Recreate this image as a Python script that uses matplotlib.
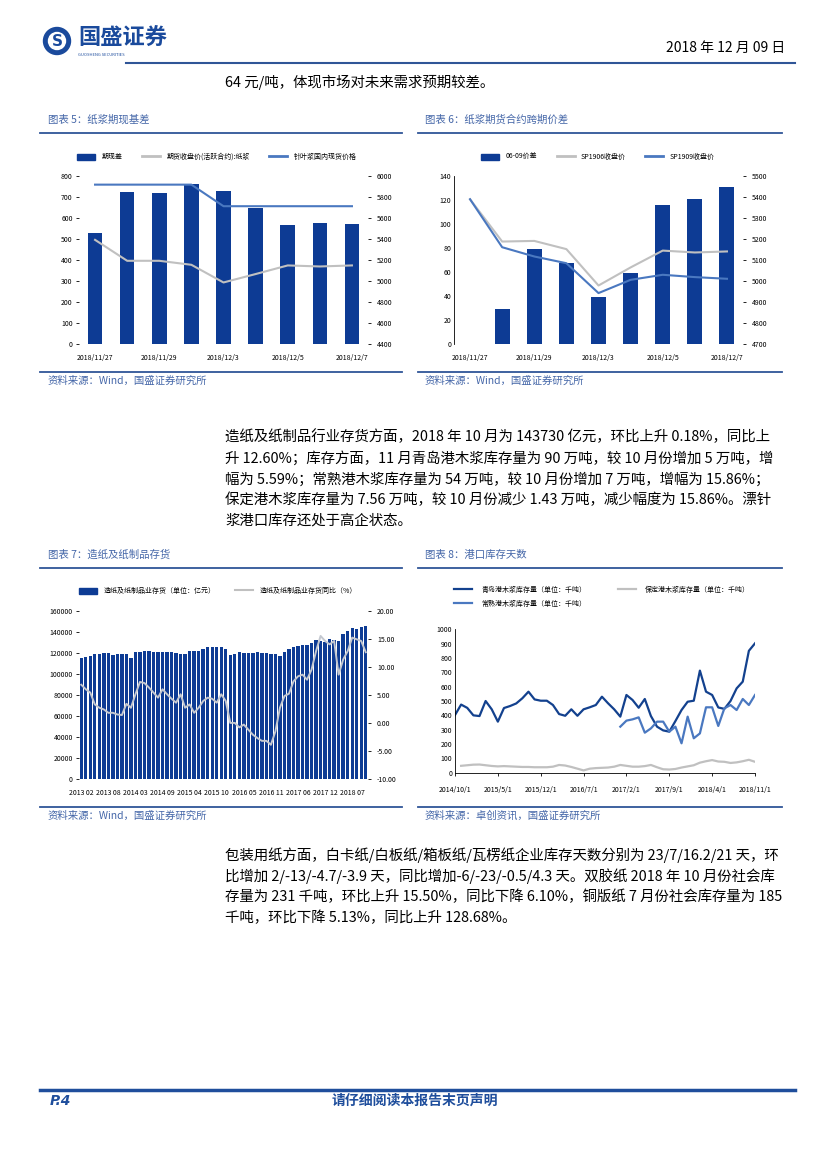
import matplotlib
matplotlib.use('Agg')
import matplotlib.pyplot as plt
import numpy as np
from matplotlib.lines import Line2D
from matplotlib.patches import Circle, Patch

plt.rcParams['font.family'] = ['Noto Sans CJK SC', 'DejaVu Sans']
plt.rcParams['axes.unicode_minus'] = False

# ---- data: chart 5 (basis) ----
basis_dates = ['2018/11/27', '2018/11/28', '2018/11/29', '2018/11/30', '2018/12/3',
               '2018/12/4', '2018/12/5', '2018/12/6', '2018/12/7']
basis = [526, 722, 718, 760, 727, 648, 566, 575, 571]
fut_close = [5390, 5191, 5191, 5153, 4985, 5065, 5147, 5137, 5147]
spot_price = [5915, 5915, 5915, 5915, 5710, 5710, 5710, 5710, 5710]

# ---- data: chart 6 (calendar spread) ----
spread_0609 = [0, 29, 79, 67, 39, 59, 116, 121, 131]
sp1906 = [5388, 5187, 5190, 5151, 4978, 5064, 5144, 5135, 5140]
sp1909 = [5388, 5160, 5116, 5084, 4942, 5005, 5029, 5018, 5010]

# ---- data: chart 7 (paper industry inventory) ----
inv_ticks = ['2013 02', '2013 08', '2014 03', '2014 09', '2015 04', '2015 10',
             '2016 05', '2016 11', '2017 06', '2017 12', '2018 07']
inv = [114700, 116300, 117200, 118500, 118800, 119400, 120100, 117800, 118800, 118800, 118500,
       115300, 120400, 121000, 121600, 121300, 120700, 120700, 120700, 120700, 120700, 120100,
       118800, 118800, 121600, 121300, 122000, 123600, 125100, 125400, 125100, 125400, 123200,
       118000, 119000, 120400, 119400, 120100, 119400, 120400, 120100, 119400, 118800, 118800,
       116900, 121000, 123200, 125800, 126700, 127000, 127400, 128900, 132100, 131500, 130500,
       132700, 132100, 131500, 138000, 141000, 143800, 142600, 144800, 145400]
inv_yoy = [6.8, 6.0, 5.4, 3.3, 2.7, 2.4, 1.8, 1.8, 1.5, 1.4, 3.4,
           2.7, 5.1, 7.3, 7.1, 6.3, 5.4, 4.5, 6.0, 5.1, 4.3, 3.6,
           5.1, 2.7, 3.3, 1.8, 2.7, 3.9, 4.5, 4.3, 3.6, 5.1, 3.9,
           0.0, 0.0, -0.8, -0.3, -1.2, -2.1, -2.7, -3.2, -3.2, -3.9, -1.5,
           2.7, 4.8, 5.2, 7.4, 8.3, 8.6, 7.7, 9.5, 12.8, 15.5, 14.6,
           14.0, 14.6, 8.6, 11.3, 12.8, 15.2, 14.9, 14.6, 12.6]

# ---- data: chart 8 (port stocks, monthly 2014/10 - 2018/11) ----
port_ticks = ['2014/10/1', '2015/5/1', '2015/12/1', '2016/7/1',
              '2017/2/1', '2017/9/1', '2018/4/1', '2018/11/1']
qingdao = [402, 475, 452, 400, 395, 500, 442, 356, 451, 465,
           483, 519, 565, 511, 502, 502, 472, 409, 397, 442,
           397, 442, 456, 472, 530, 484, 442, 391, 542, 507,
           453, 514, 395, 321, 295, 286, 360, 437, 495, 502,
           712, 565, 542, 455, 445, 500, 588, 635, 850, 902]
changshu = [321, 363, 372, 386, 279, 309, 356, 356, 286, 321, 205, 391,
            240, 274, 456, 456, 326, 449, 472, 437, 514, 472, 542]
baoding = [48, 52, 56, 57, 52, 47, 44, 46, 44, 42, 40, 40, 38, 38, 38, 42, 54,
           50, 40, 28, 16, 28, 32, 34, 36, 42, 54, 48, 42, 42, 46, 54, 38, 24,
           22, 26, 36, 44, 52, 70, 80, 88, 78, 76, 68, 72, 80, 90, 76]

W, H = 827, 1169
fig = plt.figure(figsize=(8.27, 11.69), dpi=100)

BAR = '#0d3b94'
DARK = '#13418e'
MID = '#4a78c0'
GRAY = '#c0c0c0'
RULE = '#2f5597'
CAP = '#4466a8'


def box(x0, y0, x1, y1):
    return [x0 / W, 1 - y1 / H, (x1 - x0) / W, (y1 - y0) / H]


def txt(x, y, s, **kw):
    kw.setdefault('va', 'center')
    fig.text(x / W, 1 - y / H, s, **kw)


def hline(x0, x1, y, color=RULE, lw=1.3):
    fig.add_artist(Line2D([x0 / W, x1 / W], [1 - y / H, 1 - y / H], color=color, lw=lw))


def clean(ax):
    for s in ax.spines.values():
        s.set_visible(False)
    ax.tick_params(labelsize=5, length=2.5, width=0.6, pad=2)


def fig_legend(ax, handles, labels, x, y, ncol, colsp=2.8, tpad=0.9):
    ax.legend(handles, labels, loc='center', bbox_to_anchor=(x / W, 1 - y / H),
              bbox_transform=fig.transFigure, ncol=ncol, frameon=False, fontsize=5,
              handlelength=2.6, handleheight=1.0, columnspacing=colsp, handletextpad=tpad,
              labelspacing=0.8)


# ---- header ----
fig.patches.append(Circle((0.57, (H - 41) / 100), 0.135, transform=fig.dpi_scale_trans,
                          color='#1a4a9c', zorder=3))
fig.patches.append(Circle((0.57, (H - 41) / 100), 0.085, transform=fig.dpi_scale_trans,
                          color='white', zorder=4))
txt(57, 41, 'S', ha='center', fontsize=11, fontweight='bold', color='#1a4a9c', zorder=5,
    family='DejaVu Sans')
txt(78, 38, '国盛证券', ha='left', fontsize=16, fontweight='bold', color='#1a4a9c')
txt(78, 55, 'GUOSHENG SECURITIES', ha='left', fontsize=3, color='#1a4a9c')
txt(785, 48, '2018 年 12 月 09 日', ha='right', fontsize=10)
hline(126, 795, 63, lw=1.5)
txt(225, 82, '64 元/吨，体现市场对未来需求预期较差。', ha='left', fontsize=10.4)

# ---- chart titles / rules / sources ----
txt(48, 120, '图表 5：纸浆期现基差', ha='left', fontsize=7.5, color=CAP)
txt(425, 120, '图表 6：纸浆期货合约跨期价差', ha='left', fontsize=7.5, color=CAP)
hline(40, 402, 133)
hline(418, 782, 133)
hline(40, 402, 372)
hline(418, 782, 372)
txt(48, 381, '资料来源：Wind，国盛证券研究所', ha='left', fontsize=7.5, color=CAP)
txt(425, 381, '资料来源：Wind，国盛证券研究所', ha='left', fontsize=7.5, color=CAP)

txt(48, 555, '图表 7：造纸及纸制品存货', ha='left', fontsize=7.5, color=CAP)
txt(425, 555, '图表 8：港口库存天数', ha='left', fontsize=7.5, color=CAP)
hline(40, 402, 568)
hline(418, 782, 568)
hline(40, 402, 807)
hline(418, 782, 807)
txt(48, 816, '资料来源：Wind，国盛证券研究所', ha='left', fontsize=7.5, color=CAP)
txt(425, 816, '资料来源：卓创资讯，国盛证券研究所', ha='left', fontsize=7.5, color=CAP)

# ---- body text ----
para1 = ['造纸及纸制品行业存货方面，2018 年 10 月为 143730 亿元，环比上升 0.18%，同比上',
         '升 12.60%；库存方面，11 月青岛港木浆库存量为 90 万吨，较 10 月份增加 5 万吨，增',
         '幅为 5.59%；常熟港木浆库存量为 54 万吨，较 10 月份增加 7 万吨，增幅为 15.86%；',
         '保定港木浆库存量为 7.56 万吨，较 10 月份减少 1.43 万吨，减少幅度为 15.86%。漂针',
         '浆港口库存还处于高企状态。']
for k, line in enumerate(para1):
    txt(225, 437 + k * 21, line, ha='left', fontsize=10.4)

para2 = ['包装用纸方面，白卡纸/白板纸/箱板纸/瓦楞纸企业库存天数分别为 23/7/16.2/21 天，环',
         '比增加 2/-13/-4.7/-3.9 天，同比增加-6/-23/-0.5/4.3 天。双胶纸 2018 年 10 月份社会库',
         '存量为 231 千吨，环比上升 15.50%，同比下降 6.10%，铜版纸 7 月份社会库存量为 185',
         '千吨，环比下降 5.13%，同比上升 128.68%。']
for k, line in enumerate(para2):
    txt(225, 855 + k * 21, line, ha='left', fontsize=10.4)

# ---- footer ----
hline(40, 795, 1090, color='#1f4e9c', lw=2.5)
txt(50, 1101, 'P.4', ha='left', fontsize=10, fontweight='bold', style='italic',
    color='#1f4e9c', family='DejaVu Sans')
txt(415, 1101, '请仔细阅读本报告末页声明', ha='center', fontsize=10, fontweight='bold',
    color='#1f4e9c')

# ---- chart 5 ----
ax5 = fig.add_axes(box(79, 175.7, 368, 344))
x5 = np.arange(len(basis_dates))
ax5.bar(x5, basis, width=0.45, color=BAR, zorder=1)
ax5.set_ylim(0, 800)
ax5.set_yticks(range(0, 801, 100))
ax5.set_xlim(-0.5, len(basis_dates) - 0.5)
ax5.set_xticks(x5[::2])
ax5.set_xticklabels(basis_dates[::2])
clean(ax5)
ax5.tick_params(axis='x', length=0, pad=7)
ax5b = ax5.twinx()
ax5b.plot(x5, fut_close, color=GRAY, lw=1.5)
ax5b.plot(x5, spot_price, color=MID, lw=1.5)
ax5b.set_ylim(4400, 6000)
ax5b.set_yticks(range(4400, 6001, 200))
clean(ax5b)
ax5b.tick_params(axis='y', pad=4)
fig_legend(ax5b, [Patch(color=BAR), Line2D([], [], color=GRAY, lw=2),
                  Line2D([], [], color=MID, lw=2)],
           ['期现差', '期货收盘价(活跃合约):纸浆', '针叶浆国内现货价格'], 217, 157, 3)

# ---- chart 6 ----
ax6 = fig.add_axes(box(454, 175.7, 743, 344))
x6 = np.arange(len(basis_dates))
ax6.bar(x6, spread_0609, width=0.47, color=BAR, zorder=1)
ax6.set_ylim(0, 140)
ax6.set_yticks(range(0, 141, 20))
ax6.set_xlim(-0.5, len(basis_dates) - 0.5)
ax6.set_xticks(x6[::2])
ax6.set_xticklabels(basis_dates[::2])
clean(ax6)
ax6.spines['left'].set_visible(True)
ax6.spines['left'].set_linewidth(0.6)
ax6.tick_params(axis='x', length=0, pad=7)
ax6.tick_params(axis='y', length=0)
ax6b = ax6.twinx()
ax6b.plot(x6, sp1906, color=GRAY, lw=1.5)
ax6b.plot(x6, sp1909, color=MID, lw=1.5)
ax6b.set_ylim(4700, 5500)
ax6b.set_yticks(range(4700, 5501, 100))
clean(ax6b)
ax6b.tick_params(axis='y', pad=4)
fig_legend(ax6b, [Patch(color=BAR), Line2D([], [], color=GRAY, lw=2),
                  Line2D([], [], color=MID, lw=2)],
           ['06-09价差', 'SP1906收盘价', 'SP1909收盘价'], 598, 157, 3)

# ---- chart 7 ----
ax7 = fig.add_axes(box(79, 610.7, 368, 779))
x7 = np.arange(len(inv))
ax7.bar(x7, inv, width=0.75, color=BAR, zorder=1)
ax7.set_ylim(0, 160000)
ax7.set_yticks(range(0, 160001, 20000))
ax7.set_xlim(-0.5, len(inv) - 0.5)
ax7.set_xticks(x7[::6])
ax7.set_xticklabels(inv_ticks)
clean(ax7)
ax7.tick_params(axis='x', length=0, pad=7, labelsize=5)
ax7b = ax7.twinx()
ax7b.plot(x7, inv_yoy, color='#c4c8d0', lw=1.4)
ax7b.set_ylim(-10, 20)
ax7b.set_yticks(range(-10, 21, 5))
ax7b.set_yticklabels([f'{v:.2f}' for v in range(-10, 21, 5)])
clean(ax7b)
ax7b.tick_params(axis='y', pad=4)
fig_legend(ax7b, [Patch(color=BAR), Line2D([], [], color=GRAY, lw=1.5)],
           ['造纸及纸制品业存货（单位：亿元）', '造纸及纸制品业存货同比（%）'], 218, 591, 2)

# ---- chart 8 ----
ax8 = fig.add_axes(box(455, 629.3, 755, 772.7))
x8 = np.arange(len(qingdao))
ax8.plot(x8, qingdao, color=DARK, lw=1.6, label='青岛港木浆库存量（单位：千吨）')
ax8.plot(x8[len(qingdao) - len(changshu):], changshu, color=MID, lw=1.6,
         label='常熟港木浆库存量（单位：千吨）')
ax8.plot(x8[len(qingdao) - len(baoding):], baoding, color=GRAY, lw=1.6,
         label='保定港木浆库存量（单位：千吨）')
ax8.set_ylim(0, 1000)
ax8.set_yticks(range(0, 1001, 100))
ax8.set_xlim(0, len(qingdao) - 1)
ax8.set_xticks(x8[::7])
ax8.set_xticklabels(port_ticks)
for s in ['top', 'right']:
    ax8.spines[s].set_visible(False)
for s in ['left', 'bottom']:
    ax8.spines[s].set_linewidth(0.6)
ax8.tick_params(labelsize=5, width=0.6, pad=2)
ax8.tick_params(axis='y', length=0)
ax8.tick_params(axis='x', length=2.5, pad=7)
h8, l8 = ax8.get_legend_handles_labels()
fig_legend(ax8, h8, l8, 602, 597, 2, colsp=4.5, tpad=1.3)

fig.savefig('out.png', dpi=100)
